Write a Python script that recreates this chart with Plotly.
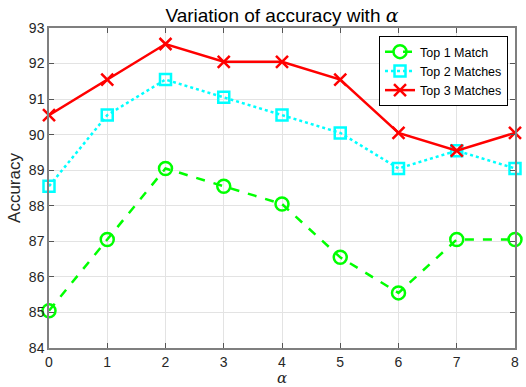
import plotly.graph_objects as go

alpha = [0, 1, 2, 3, 4, 5, 6, 7, 8]
top1 = [85.05, 87.05, 89.05, 88.55, 88.05, 86.55, 85.55, 87.05, 87.05]
top2 = [88.55, 90.55, 91.55, 91.05, 90.55, 90.05, 89.05, 89.55, 89.05]
top3 = [90.55, 91.55, 92.55, 92.05, 92.05, 91.55, 90.05, 89.55, 90.05]
names = ["Top 1 Match", "Top 2 Matches", "Top 3 Matches"]

fig = go.Figure()
fig.add_trace(go.Scatter(x=alpha, y=top1, name=names[0], mode="lines+markers", cliponaxis=False,
                         line=dict(color="#00FF00", width=2.5, dash="dash"),
                         marker=dict(symbol="circle-open", size=13, color="#00FF00", line=dict(width=2.5))))
fig.add_trace(go.Scatter(x=alpha, y=top2, name=names[1], mode="lines+markers", cliponaxis=False,
                         line=dict(color="#00FFFF", width=2.5, dash="dot"),
                         marker=dict(symbol="square-open", size=11, color="#00FFFF", line=dict(width=2.5))))
fig.add_trace(go.Scatter(x=alpha, y=top3, name=names[2], mode="lines+markers", cliponaxis=False,
                         line=dict(color="#FF0000", width=2.5),
                         marker=dict(symbol="x-thin-open", size=12, color="#FF0000", line=dict(width=2.5))))

axcommon = dict(showgrid=True, gridcolor="#E3E3E3", gridwidth=1, zeroline=False,
                showline=True, linecolor="#7F7F7F", linewidth=1.5, mirror="ticks",
                ticks="inside", ticklen=5, tickcolor="#555555", automargin=False,
                tickfont=dict(family="Liberation Sans, Arial", size=14, color="#262626"))

fig.update_layout(
    width=526, height=387,
    margin=dict(l=49, r=11, t=28, b=39),
    paper_bgcolor="white", plot_bgcolor="white",
    title=dict(text='Variation of accuracy with <i><span style="font-family:DejaVu Serif, serif">α</span></i>',
               x=0.5, xref="paper", xanchor="center", y=0.961, yref="container", yanchor="middle",
               font=dict(family="Liberation Sans, Arial", size=19, color="black")),
    xaxis=dict(range=[0, 8], dtick=1, title=dict(text="<i>α</i>", standoff=5,
               font=dict(family="DejaVu Serif, serif", size=15, color="#262626")), **axcommon),
    yaxis=dict(range=[84, 93], dtick=1, title=dict(text="Accuracy", standoff=4,
               font=dict(family="Liberation Sans, Arial", size=17, color="#262626")), **axcommon),
    legend=dict(x=0.985, xanchor="right", y=0.975, yanchor="top",
                bgcolor="white", bordercolor="black", borderwidth=1,
                font=dict(family="Liberation Sans, Arial", size=12.5, color="black"),
                tracegroupgap=0, itemwidth=30),
    showlegend=True,
)

# remove the browser's default 8px body margin so the figure fills the window exactly
fig.write_html("out.html", config={"displayModeBar": False},
               post_script="document.body.style.margin='0';document.body.style.overflow='hidden';")
